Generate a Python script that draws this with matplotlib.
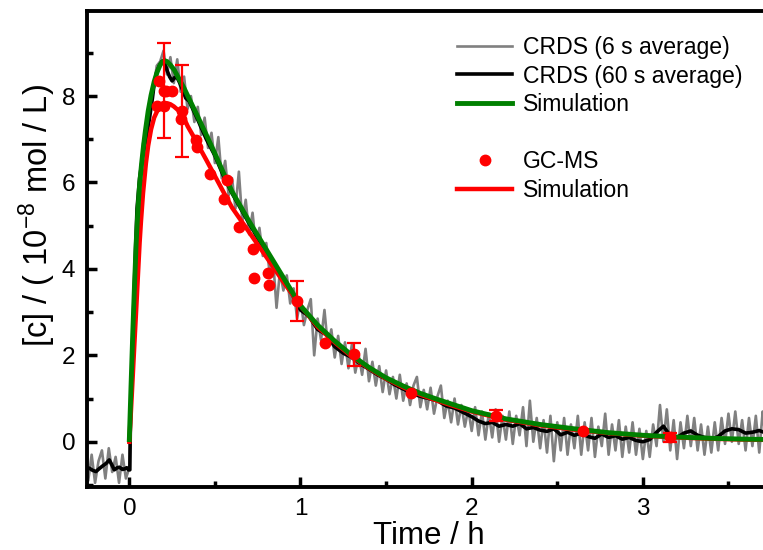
import numpy as np
import matplotlib.pyplot as plt
from matplotlib.lines import Line2D
from matplotlib.ticker import MultipleLocator

plt.rcParams['font.family'] = ['Liberation Sans', 'DejaVu Sans']
plt.rcParams['mathtext.fontset'] = 'custom'
plt.rcParams['mathtext.rm'] = 'Liberation Sans'
plt.rcParams['mathtext.it'] = 'Liberation Sans:italic'

# CRDS, 6 s average: one reading every 0.02 h starting at -0.26 h
crds6_start = -0.26
crds6_step = 0.02
crds6_c = [
    -0.4, -0.9, -0.3, -0.95, -0.45, -0.2, -0.85, -0.15, -0.7, -0.35,
    -0.95, -0.3, -0.85, -0.6, 2.3, 4.7, 5.9, 6.9, 7.3, 7.9,
    8.1, 8.7, 8.8, 9.05, 8.5, 8.9, 8.3, 8.85, 8.1, 8.45,
    7.7, 8.0, 7.4, 7.75, 7.1, 7.5, 6.8, 7.15, 6.45, 7.05,
    6.1, 6.5, 5.7, 6.1, 5.4, 6.25, 5.1, 5.6, 4.8, 5.3,
    4.5, 4.95, 4.3, 4.6, 3.9, 4.2, 3.1, 3.95, 3.5, 3.85,
    3.2, 3.55, 2.85, 3.3, 2.7, 3.05, 3.3, 2.0, 2.85, 2.35,
    3.05, 2.2, 2.6, 1.95, 2.45, 1.8, 2.3, 1.7, 2.25, 1.6,
    2.0, 1.55, 2.15, 1.4, 1.85, 1.3, 1.75, 1.15, 1.65, 1.1,
    1.5, 1.0, 1.55, 0.95, 1.35, 0.85, 1.3, 1.5, 0.8, 1.2,
    0.75, 1.25, 0.65, 1.05, 1.3, 0.55, 0.95, 0.45, 1.0, 0.4,
    0.85, 0.35, 0.75, 0.25, 0.8, 0.15, 0.7, 0.05, 0.65, 0.1,
    0.75, 0.0, 0.6, 0.05, 0.7, -0.05, 0.6, 0.15, 0.8, -0.1,
    0.95, 0.0, 0.55, -0.15, 0.5, -0.25, 0.6, -0.45, 0.45, -0.2,
    0.55, -0.3, 0.4, -0.15, 0.6, -0.3, 0.45, -0.2, 0.55, -0.35,
    0.35, -0.1, 0.65, -0.3, 0.4, -0.2, 0.5, -0.35, 0.35, -0.25,
    0.45, -0.3, 0.3, -0.4, 0.25, -0.35, 0.4, -0.1, 0.85, 0.0,
    0.75, -0.2, 0.5, -0.4, 0.45, -0.15, 0.6, -0.1, 0.55, -0.2,
    0.4, -0.3, 0.35, -0.25, 0.45, -0.2, 0.55, -0.05, 0.65, 0.0,
    0.7, -0.05, 0.5, -0.2, 0.55, -0.1, 0.6, -0.25, 0.7, -0.05,
    0.6, 0.1,
]

# CRDS, 60 s average
crds60_t = [
    -0.26, -0.234, -0.215, -0.195, -0.175, -0.156, -0.135, -0.117, -0.1, -0.088,
    -0.07, -0.058, -0.04, -0.029, -0.015, -0.005, 0.003, 0.006, 0.02, 0.035,
    0.045, 0.06, 0.078, 0.1, 0.117, 0.135, 0.146, 0.16, 0.175, 0.19,
    0.205, 0.22, 0.235, 0.25, 0.265, 0.28, 0.295, 0.31, 0.33,
    0.35, 0.4, 0.45, 0.5, 0.55, 0.6, 0.65, 0.7, 0.75, 0.8,
    0.85, 0.9, 0.95, 1.0, 1.05, 1.1, 1.15, 1.2, 1.25, 1.3,
    1.35, 1.4, 1.45, 1.5, 1.55, 1.6, 1.65, 1.7, 1.75, 1.8,
    1.85, 1.9, 1.95,
    2.0, 2.04, 2.08, 2.12, 2.16, 2.2, 2.24, 2.28, 2.32, 2.36,
    2.4, 2.44, 2.48, 2.52, 2.56, 2.6, 2.64, 2.68, 2.72, 2.76,
    2.8, 2.84, 2.88, 2.92, 2.96, 3.0, 3.04, 3.08, 3.12, 3.16,
    3.2, 3.24, 3.28, 3.32, 3.36, 3.4, 3.44, 3.48, 3.52, 3.56,
    3.6, 3.64, 3.68, 3.72, 3.76,
]
crds60_c = [
    -0.62, -0.61, -0.66, -0.69, -0.62, -0.56, -0.5, -0.42, -0.55, -0.65,
    -0.6, -0.59, -0.64, -0.63, -0.6, -0.65, -0.65, 0.3, 2.4, 4.3,
    5.4, 6.1, 6.6, 7.05, 7.46, 7.95, 8.31, 8.55, 8.7, 8.8,
    8.78, 8.6, 8.45, 8.35, 8.43, 8.42, 8.3, 8.15, 7.95,
    7.88, 7.45, 7.0, 6.62, 6.15, 5.75, 5.4, 5.05, 4.72, 4.38,
    4.05, 3.72, 3.42, 3.05, 2.9, 2.6, 2.48, 2.2, 2.05, 1.95,
    1.8, 1.68, 1.55, 1.45, 1.32, 1.22, 1.12, 1.05, 1.0, 0.95,
    0.83, 0.78, 0.68,
    0.58, 0.48, 0.42, 0.45, 0.36, 0.4, 0.36, 0.42, 0.3, 0.33,
    0.27, 0.24, 0.3, 0.16, 0.22, 0.15, 0.2, 0.12, 0.08, 0.18,
    0.1, 0.14, 0.06, 0.1, 0.03, 0.0, 0.05, 0.22, 0.36, 0.14,
    0.1, 0.2, 0.25, 0.15, 0.1, 0.06, 0.12, 0.25, 0.3, 0.28,
    0.2, 0.22, 0.26, 0.2, 0.22,
]

# simulation matched to CRDS (green)
sim_crds_t = [
    0.0, 0.01, 0.02, 0.03, 0.04, 0.05, 0.06, 0.072, 0.083, 0.094,
    0.11, 0.127, 0.145, 0.162, 0.18, 0.195, 0.205, 0.22, 0.24, 0.263,
    0.29, 0.32, 0.36, 0.4, 0.45, 0.5, 0.55, 0.6, 0.7, 0.8,
    0.9, 1.0, 1.1, 1.2, 1.3, 1.4, 1.5, 1.6, 1.7, 1.8,
    1.9, 2.0, 2.2, 2.4, 2.6, 2.8, 3.0, 3.2, 3.4, 3.6, 3.8,
]
sim_crds_c = [
    0.05, 1.3, 2.5, 3.6, 4.6, 5.35, 5.95, 6.45, 6.85, 7.2,
    7.65, 8.02, 8.33, 8.55, 8.72, 8.8, 8.82, 8.8, 8.72, 8.6,
    8.4, 8.18, 7.85, 7.52, 7.1, 6.67, 6.22, 5.79, 5.1, 4.45,
    3.8, 3.15, 2.7, 2.33, 2.0, 1.72, 1.48, 1.29, 1.12, 0.98,
    0.85, 0.72, 0.53, 0.4, 0.3, 0.21, 0.15, 0.11, 0.08, 0.06, 0.05,
]

# simulation matched to GC-MS (red)
sim_gc_t = [
    0.0, 0.01, 0.019, 0.03, 0.04, 0.049, 0.06, 0.068, 0.08, 0.097,
    0.11, 0.127, 0.145, 0.166, 0.19, 0.21, 0.224, 0.24, 0.26, 0.292,
    0.32, 0.341, 0.37, 0.4, 0.45, 0.5, 0.55, 0.6, 0.7, 0.8,
    0.9, 1.0, 1.1, 1.2, 1.3, 1.4, 1.5, 1.6, 1.7, 1.8,
    1.9, 2.0, 2.2, 2.4, 2.6, 2.8, 3.0, 3.2, 3.4, 3.6, 3.8,
]
sim_gc_c = [
    0.0, 0.75, 1.44, 2.3, 3.05, 3.75, 4.6, 5.1, 5.75, 6.45,
    6.85, 7.23, 7.5, 7.68, 7.8, 7.83, 7.83, 7.81, 7.76, 7.65,
    7.48, 7.3, 7.1, 6.88, 6.52, 6.15, 5.78, 5.42, 4.85, 4.28,
    3.7, 3.15, 2.66, 2.3, 1.97, 1.7, 1.46, 1.26, 1.09, 0.95,
    0.82, 0.7, 0.51, 0.38, 0.28, 0.2, 0.14, 0.1, 0.07, 0.05, 0.04,
]

# GC-MS samples
gc_t = [0.16, 0.175, 0.205, 0.205, 0.215, 0.25, 0.302, 0.306, 0.39, 0.396,
        0.474, 0.556, 0.571, 0.64, 0.723, 0.728, 0.809, 0.815, 0.98, 1.142,
        1.314, 1.647, 2.145, 2.65, 3.16]
gc_c = [7.76, 8.34, 7.77, 8.12, 8.12, 8.12, 7.48, 7.65, 6.98, 6.81,
        6.19, 5.61, 6.05, 4.97, 4.45, 3.78, 3.91, 3.62, 3.26, 2.29,
        2.02, 1.13, 0.6, 0.24, 0.1]
gc_err_t = [0.205, 0.306, 0.98, 1.314, 2.145, 3.16]
gc_err_c = [8.12, 7.65, 3.26, 2.02, 0.6, 0.1]
gc_err = [1.1, 1.07, 0.47, 0.27, 0.13, 0.1]

fig = plt.figure(figsize=(7.63, 5.5), dpi=100)
ax = fig.add_axes([0.1134, 0.1151, 0.8974, 0.8658])

t6 = crds6_start + crds6_step * np.arange(len(crds6_c))
h6, = ax.plot(t6, crds6_c, color='#808080', lw=1.9, label='CRDS (6 s average)')
h60, = ax.plot(crds60_t, crds60_c, color='black', lw=2.6, label='CRDS (60 s average)')
hr, = ax.plot(sim_gc_t, sim_gc_c, color='red', lw=3.2, label='Simulation')
hg, = ax.plot(sim_crds_t, sim_crds_c, color='green', lw=3.5, label='Simulation')
ax.errorbar(gc_err_t, gc_err_c, yerr=gc_err, fmt='none', ecolor='red',
            elinewidth=1.6, capsize=5, capthick=1.6, zorder=4)
hd, = ax.plot(gc_t, gc_c, 'o', color='red', ms=7.5, ls='none', label='GC-MS', zorder=5)

blank = Line2D([], [], color='none', label=' ')
ax.legend(handles=[h6, h60, hg, blank, hd, hr],
          labels=['CRDS (6 s average)', 'CRDS (60 s average)', 'Simulation', ' ',
                  'GC-MS', 'Simulation'],
          loc='upper left', bbox_to_anchor=(457 / 763, 1 - 36 / 550),
          bbox_transform=fig.transFigure, frameon=False, fontsize=16.6,
          handlelength=2.4, handletextpad=0.45, labelspacing=0.24,
          borderpad=0, borderaxespad=0, numpoints=1)

ax.set_xlim(-0.25, 3.75)
ax.set_ylim(-1.04, 9.98)
ax.xaxis.set_major_locator(MultipleLocator(1))
ax.xaxis.set_minor_locator(MultipleLocator(0.5))
ax.yaxis.set_major_locator(MultipleLocator(2))
ax.yaxis.set_minor_locator(MultipleLocator(1))
ax.tick_params(which='both', direction='in', top=False, right=False,
               labelsize=17.5, pad=8)
ax.tick_params(which='major', length=7, width=2.5)
ax.tick_params(which='minor', length=4, width=2.5)
for s in ax.spines.values():
    s.set_linewidth(2.8)

ax.set_xlabel('Time / h', fontsize=22.5, labelpad=0.5)
ax.set_ylabel('[c] / ( 10$^{-8}$ mol / L)', fontsize=23.5)
ax.yaxis.set_label_coords(-0.042, 0.57)

fig.savefig('out.png', dpi=100)
